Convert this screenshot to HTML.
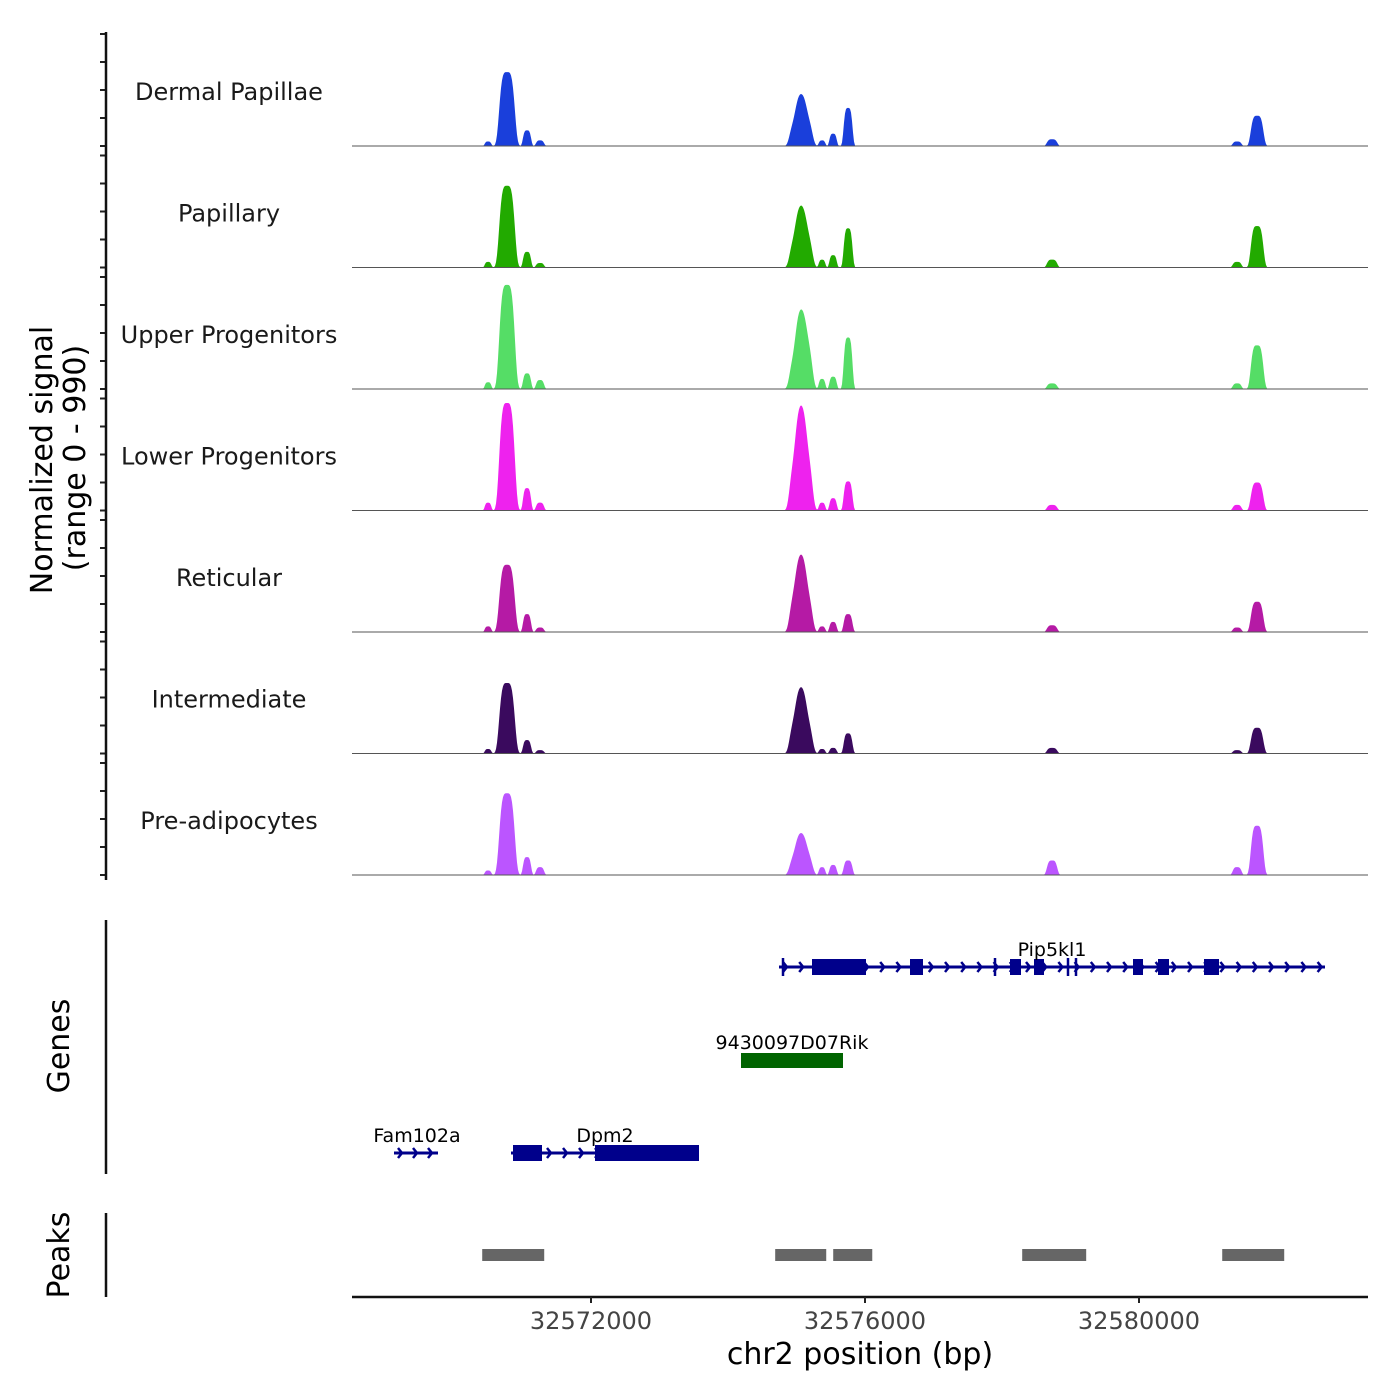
<!DOCTYPE html>
<html><head><meta charset="utf-8"><style>
html,body{margin:0;padding:0;background:#fff}
svg{display:block;font-family:"DejaVu Sans","Liberation Sans",sans-serif}
</style></head><body>
<svg id="chart" width="1400" height="1400" viewBox="0 0 1400 1400">
<g id="tracks"></g>
<g id="genes"></g>
<g id="peaks"></g>
<g id="axes"></g>
</svg>
<script>
const trackNames = ["Dermal Papillae","Papillary","Upper Progenitors","Lower Progenitors","Reticular","Intermediate","Pre-adipocytes"];
const trackColors = ["#1a3fdb","#22aa00","#55dd66","#ee22ee","#b51aa5","#3a0a5e","#bb55ff"];
// peak centres (bp) and widths (bp)
const peakPos = [32570774,32570497,32571066,32571256,32575023,32575110,32575373,32575534,32575753,32578731,32581724,32581432];
const peakWidth = [105,45,55,55,110,110,45,50,60,70,85,60];
// peak heights as fraction of track range, per cell type
const h1 = [0.66,0.04,0.14,0.05,0.22,0.25,0.05,0.11,0.34,0.06,0.27,0.04];
const h2 = [0.73,0.05,0.14,0.04,0.26,0.30,0.07,0.11,0.35,0.07,0.37,0.05];
const h3 = [0.93,0.06,0.14,0.08,0.30,0.42,0.09,0.11,0.46,0.05,0.39,0.05];
const h4 = [0.96,0.07,0.20,0.07,0.45,0.50,0.07,0.11,0.26,0.05,0.25,0.05];
const h5 = [0.60,0.05,0.16,0.04,0.35,0.35,0.05,0.09,0.16,0.06,0.27,0.04];
const h6 = [0.63,0.04,0.12,0.03,0.30,0.30,0.04,0.05,0.18,0.05,0.23,0.03];
const h7 = [0.73,0.04,0.16,0.07,0.18,0.20,0.07,0.09,0.13,0.13,0.44,0.07];
const heights = [h1,h2,h3,h4,h5,h6,h7];
const xTicks = [32572000,32576000,32580000];
const peakRegions = [[32570412,32571317],[32574689,32575434],[32575536,32576106],[32578295,32579229],[32581215,32582120]];

const svg = document.getElementById('chart');
const NS = "http://www.w3.org/2000/svg";
const X0 = 32568511, PX = 0.0685, LEFT = 352, RIGHT = 1368;
const xs = bp => LEFT + (bp - X0) * PX;
function mk(tag, attrs, parent, text){
  const e = document.createElementNS(NS, tag);
  for (const k in attrs) e.setAttribute(k, attrs[k]);
  if (text !== undefined) e.textContent = text;
  parent.appendChild(e); return e;
}
const tracksG = document.getElementById('tracks');
const axesG = document.getElementById('axes');
const TH = 112;
trackNames.forEach((name, t) => {
  const base = 146 + t * 121.5;
  const ys = v => base - v * TH;
  let d = `M${LEFT},${base}`;
  for (let px = LEFT; px <= RIGHT; px += 1) {
    const bp = X0 + (px - LEFT) / PX;
    let v = 0;
    peakPos.forEach((p, i) => {
      const z = (bp - p) / peakWidth[i];
      v += heights[t][i] * Math.exp(-Math.pow(Math.abs(z), 4) / 2);
    });
    d += `L${px},${ys(v).toFixed(2)}`;
  }
  d += `L${RIGHT},${base}Z`;
  const area = mk('path', {d, fill: trackColors[t], stroke: 'none'}, tracksG);
  
  
  const bl = mk('line', {x1: LEFT, x2: RIGHT, y1: base, y2: base, stroke: '#555', 'stroke-width': 1}, tracksG);
  
  
  const lab = mk('text', {x: 229, y: base - 46, 'text-anchor': 'middle', 'font-size': 24, fill: '#1a1a1a'}, tracksG, name);
  
  
  for (let k = 0; k <= 4; k++) {
    const y = base - k * TH / 4;
    const tk = mk('line', {x1: 100, x2: 106, y1: y, y2: y, stroke: '#222', 'stroke-width': 2}, axesG);
    
    
  }
});
mk('line', {x1:106,x2:106,y1:32,y2:880,stroke:'#111','stroke-width':2.5,}, axesG);
mk('text', {transform:'translate(52,460) rotate(-90)','text-anchor':'middle','font-size':30,fill:'#000',}, axesG, 'Normalized signal');
mk('text', {transform:'translate(85,458) rotate(-90)','text-anchor':'middle','font-size':30,fill:'#000',}, axesG, '(range 0 - 990)');
const gG = document.getElementById('genes');
mk('line',{x1:106,x2:106,y1:920,y2:1174,stroke:'#111','stroke-width':2.5,},gG);
mk('text',{transform:'translate(69,1046) rotate(-90)','text-anchor':'middle','font-size':30,},gG,'Genes');
function gene(name, x1, x2, y, exons, color, labelX, chev, lines){
  const g = mk('g',{},gG);
  mk('line',{x1,x2,y1:y,y2:y,stroke:color,'stroke-width':3},g);
  for (let x = x1 + 8; x <= x2; x += chev) {
    mk('path',{d:`M${x-4},${y-5}L${x},${y}L${x-4},${y+5}`,fill:'none',stroke:color,'stroke-width':2.5},g);
  }
  exons.forEach(e=>mk('rect',{x:e[0],y:y-8,width:e[1]-e[0],height:16,fill:color},g));
  (lines||[]).forEach(x=>mk('line',{x1:x,x2:x,y1:y-9,y2:y+9,stroke:color,'stroke-width':2.5},g));
  mk('text',{x:labelX,y:y-11,'text-anchor':'middle','font-size':19,fill:'#000'},g,name);
}
gene('Pip5kl1',779,1325,967,[[812,866],[910,923],[1010,1021],[1034,1044],[1133,1143],[1158,1169],[1204,1219]],'#00008b',1052,16.2,[783,995,1068,1076]);
gene('Fam102a',394,438,1153,[],'#00008b',417,15,[]);
gene('Dpm2',511,699,1153,[[513,542],[595,699]],'#00008b',605,16,[]);
const rik = mk('g',{},gG);
mk('rect',{x:741,y:1053,width:102,height:15,fill:'#006400'},rik);
mk('text',{x:792,y:1049,'text-anchor':'middle','font-size':19},rik,'9430097D07Rik');
const pG = document.getElementById('peaks');
mk('line',{x1:106,x2:106,y1:1213,y2:1297,stroke:'#111','stroke-width':2.5,},pG);
mk('text',{transform:'translate(69,1255) rotate(-90)','text-anchor':'middle','font-size':30,},pG,'Peaks');
peakRegions.forEach(r=>{
  const rc = mk('rect',{x:xs(r[0]),y:1249,width:xs(r[1])-xs(r[0]),height:12,fill:'#666'},pG);
  
  
});
mk('line',{x1:LEFT,x2:RIGHT,y1:1297,y2:1297,stroke:'#111','stroke-width':2.5,},axesG);
xTicks.forEach(v=>{
  const tk = mk('line',{x1:xs(v),x2:xs(v),y1:1297,y2:1303,stroke:'#222','stroke-width':2},axesG);
  
  
  const tl = mk('text',{x:xs(v),y:1329,'text-anchor':'middle','font-size':24,fill:'#444'},axesG,String(v));
  
  
});
mk('text',{x:860,y:1364,'text-anchor':'middle','font-size':30,},axesG,'chr2 position (bp)');
</script>
</body></html>
